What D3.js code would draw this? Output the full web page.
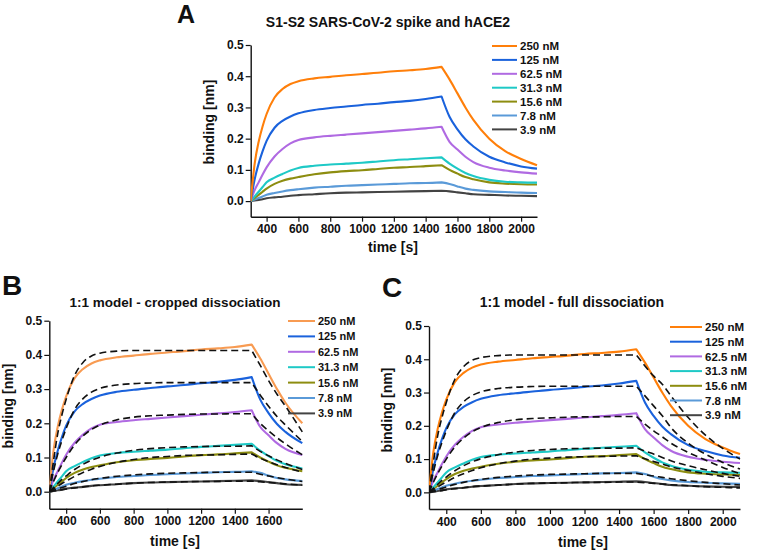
<!DOCTYPE html>
<html><head><meta charset="utf-8">
<script src="https://cdn.jsdelivr.net/npm/d3@7"></script>
<style>
body{margin:0;background:#fff}
svg{display:block}
text{font-family:"Liberation Sans",Arial,sans-serif;font-weight:bold;fill:#111}
</style>
</head><body><svg width="760" height="552"></svg>
<script>
// ---------- data ----------
const concentrations = ["250 nM","125 nM","62.5 nM","31.3 nM","15.6 nM","7.8 nM","3.9 nM"];
const colors = ["#ff7f0a","#1a62dc","#b06ae2","#1ec9c6","#8d8d10","#5a9ad8","#434343"];

const times = [300,325,350,375,400,450,500,550,600,700,800,900,1000,1100,1200,1300,1400,1500,1550,1600,1650,1700,1800,1900,2000,2100];

const data250 = [0,0.12,0.19,0.24,0.279,0.332,0.359,0.375,0.384,0.393,0.398,0.403,0.407,0.411,0.416,0.419,0.423,0.43,0.39,0.345,0.30,0.26,0.20,0.16,0.135,0.115];
const data125 = [0,0.07,0.12,0.16,0.193,0.235,0.257,0.271,0.281,0.292,0.298,0.303,0.308,0.312,0.317,0.321,0.327,0.335,0.27,0.23,0.198,0.175,0.142,0.124,0.111,0.104];
const data62 = [0,0.035,0.06,0.085,0.108,0.143,0.167,0.185,0.196,0.204,0.209,0.213,0.217,0.221,0.225,0.229,0.233,0.238,0.19,0.165,0.142,0.125,0.107,0.098,0.092,0.088];
const data31 = [0,0.015,0.03,0.045,0.06,0.075,0.087,0.098,0.106,0.113,0.117,0.12,0.123,0.127,0.131,0.134,0.137,0.14,0.12,0.104,0.09,0.08,0.068,0.062,0.06,0.059];
const data15 = [0,0.01,0.02,0.03,0.04,0.055,0.065,0.072,0.077,0.086,0.092,0.096,0.099,0.103,0.107,0.109,0.112,0.115,0.1,0.088,0.077,0.07,0.06,0.056,0.054,0.053];
const data7 = [0,0.005,0.01,0.015,0.02,0.026,0.031,0.035,0.038,0.043,0.046,0.049,0.051,0.053,0.055,0.057,0.058,0.06,0.055,0.047,0.04,0.036,0.031,0.029,0.027,0.026];
const data3 = [0,0.002,0.004,0.006,0.009,0.012,0.014,0.017,0.019,0.022,0.025,0.027,0.028,0.029,0.03,0.031,0.032,0.033,0.031,0.028,0.025,0.022,0.02,0.018,0.017,0.016];
const dataSeries = [data250,data125,data62,data31,data15,data7,data3];

// 1:1 model fits: association phase (times 300..1500)
const assocTimes = [300,325,350,375,400,450,500,550,600,700,800,900,1000,1100,1200,1300,1400,1500];
const fitAssoc = [
  [0,0.09,0.17,0.225,0.27,0.34,0.378,0.397,0.405,0.411,0.413,0.413,0.413,0.413,0.413,0.413,0.413,0.413],
  [0,0.06,0.11,0.15,0.185,0.24,0.272,0.291,0.302,0.312,0.316,0.318,0.319,0.319,0.319,0.319,0.319,0.319],
  [0,0.03,0.056,0.079,0.1,0.137,0.163,0.182,0.195,0.21,0.218,0.222,0.224,0.226,0.227,0.227,0.228,0.228],
  [0,0.012,0.024,0.036,0.046,0.065,0.08,0.092,0.101,0.113,0.121,0.126,0.129,0.131,0.132,0.133,0.133,0.134],
  [0,0.008,0.016,0.024,0.031,0.045,0.056,0.066,0.074,0.086,0.094,0.1,0.103,0.106,0.107,0.108,0.109,0.11],
  [0,0.004,0.008,0.012,0.016,0.024,0.03,0.035,0.039,0.045,0.049,0.052,0.054,0.055,0.056,0.057,0.057,0.057],
  [0,0.002,0.004,0.006,0.008,0.011,0.014,0.017,0.019,0.022,0.025,0.027,0.028,0.029,0.03,0.03,0.031,0.031]
];
// dissociation fits, cropped (panel B)
const dissocTimesB = [1500,1550,1600,1650,1700,1800];
const fitDissocB = [
  [0.413,0.37,0.325,0.285,0.25,0.175],
  [0.319,0.283,0.25,0.22,0.195,0.147],
  [0.228,0.2,0.178,0.158,0.14,0.108],
  [0.134,0.118,0.105,0.093,0.083,0.065],
  [0.11,0.098,0.088,0.079,0.071,0.057],
  [0.057,0.051,0.046,0.041,0.037,0.03],
  [0.031,0.029,0.027,0.025,0.023,0.019]
];
// dissociation fits, full (panel C)
const dissocTimesC = [1500,1550,1600,1650,1700,1800,1900,2000,2100];
const fitDissocC = [
  [0.413,0.38,0.35,0.325,0.29,0.225,0.172,0.132,0.1],
  [0.319,0.29,0.26,0.23,0.195,0.148,0.115,0.09,0.07],
  [0.228,0.205,0.185,0.167,0.148,0.12,0.097,0.075,0.056],
  [0.134,0.124,0.115,0.105,0.095,0.08,0.068,0.057,0.048],
  [0.11,0.101,0.093,0.085,0.077,0.066,0.056,0.048,0.042],
  [0.057,0.053,0.049,0.045,0.041,0.035,0.03,0.026,0.022],
  [0.031,0.029,0.027,0.025,0.023,0.02,0.017,0.015,0.013]
];

const yTicks = [0,0.1,0.2,0.3,0.4,0.5];
const yMinor = [0.05,0.15,0.25,0.35,0.45];
const xTicksFull = [400,600,800,1000,1200,1400,1600,1800,2000];
const xMinorFull = [300,500,700,900,1100,1300,1500,1700,1900,2100];
const xTicksCrop = [400,600,800,1000,1200,1400,1600];
const xMinorCrop = [300,500,700,900,1100,1300,1500,1700];

// ---------- drawing ----------
const svg = d3.select("svg");

function drawPanel(p) {
  const x = d3.scaleLinear().domain([300, p.tmax]).range([p.x0, p.x1]);
  const y = d3.scaleLinear().domain([-0.05, 0.5]).range([p.yb, p.yt]);
  const g = svg.append("g");

  const gx = g.append("g").attr("transform", `translate(0,${p.yb})`);
  gx.call(d3.axisBottom(x).tickValues(p.xMinor).tickSize(3).tickSizeOuter(0).tickFormat(""));
  gx.call(d3.axisBottom(x).tickValues(p.xTicks).tickSize(5).tickSizeOuter(0).tickPadding(3).tickFormat(d3.format("d")));
  const gy = g.append("g").attr("transform", `translate(${p.x0},0)`);
  gy.call(d3.axisLeft(y).tickValues(yMinor).tickSize(3).tickSizeOuter(0).tickFormat(""));
  gy.call(d3.axisLeft(y).tickValues(yTicks).tickSize(5).tickSizeOuter(0).tickPadding(2).tickFormat(d3.format(".1f")));
  g.selectAll(".domain").attr("stroke", "#111").attr("stroke-width", 1.4);
  g.selectAll(".tick line").attr("stroke", "#111").attr("stroke-width", 1.2);
  g.selectAll(".tick text").style("font-size", p.tickFont + "px").attr("fill", "#111");

  const line = d3.line().x(d => x(d[0])).y(d => y(d[1])).curve(d3.curveMonotoneX);
  const split = times.indexOf(1500);

  const clipId = "clip" + p.id;
  svg.append("clipPath").attr("id", clipId).append("rect")
    .attr("x", p.x0).attr("y", p.yt - 10).attr("width", p.x1 - p.x0 + 1).attr("height", p.yb - p.yt + 10);
  const plot = g.append("g").attr("clip-path", `url(#${clipId})`);

  dataSeries.slice().reverse().forEach((vals, ri) => {
    const i = dataSeries.length - 1 - ri;
    const pts = times.map((t, k) => [t, vals[k]]);
    const a = pts.slice(0, split + 1);
    const d = pts.slice(split).filter(q => q[0] <= p.tmax);
    plot.append("path").attr("d", line(a) + line(d).replace(/^M/, "L"))
      .attr("fill", "none").attr("stroke", (p.colors || colors)[i]).attr("stroke-width", 2.1)
      .attr("stroke-linejoin", "round");
  });

  if (p.fitDissoc) {
    fitAssoc.forEach((vals, i) => {
      const a = assocTimes.map((t, k) => [t, vals[k]]);
      const d = p.dissocTimes.map((t, k) => [t, p.fitDissoc[i][k]]);
      plot.append("path").attr("d", line(a) + line(d).replace(/^M/, "L"))
        .attr("fill", "none").attr("stroke", "#111").attr("stroke-width", 1.6)
        .attr("stroke-dasharray", "7,4");
    });
  }

  concentrations.forEach((c, i) => {
    const ly = p.legY + i * p.legDy;
    g.append("line").attr("x1", p.legX).attr("x2", p.legX + p.legLen)
      .attr("y1", ly).attr("y2", ly).attr("stroke", (p.colors || colors)[i]).attr("stroke-width", 2);
    g.append("text").attr("x", p.legX + p.legLen + 3).attr("y", ly).attr("dy", "0.36em")
      .style("font-size", p.legFont + "px").text(c);
  });

  g.append("text").attr("x", p.titleX).attr("y", p.titleY).attr("text-anchor", "middle")
    .style("font-size", p.titleFont + "px").text(p.title);
  g.append("text").attr("transform", `translate(${p.ylabX},${p.ylabY}) rotate(-90)`)
    .attr("text-anchor", "middle").attr("dy", "0.35em").style("font-size", "14px").text("binding [nm]");
  g.append("text").attr("x", p.xlabX).attr("y", p.xlabY).attr("text-anchor", "middle")
    .style("font-size", "14px").text("time [s]");
  g.append("text").attr("x", p.letterX).attr("y", p.letterY)
    .style("font-size", p.letterFont + "px").text(p.letter);
}

const colorsB = ["#f89b52","#1a62dc","#b06ae2","#1ec9c6","#8d8d10","#5a9ad8","#434343"];

drawPanel({id:"A", tmax:2100, x0:250.7, x1:537, yt:45, yb:216.7,
  xTicks:xTicksFull, xMinor:xMinorFull, tickFont:12,
  legX:492, legLen:25, legY:46, legDy:13.9, legFont:11.5,
  title:"S1-S2 SARS-CoV-2 spike and hACE2", titleX:388, titleY:27, titleFont:14,
  ylabX:209, ylabY:122, xlabX:393, xlabY:252, letter:"A", letterX:177, letterY:23, letterFont:25});

drawPanel({id:"B", tmax:1800, x0:49.3, x1:302.3, yt:320.7, yb:508.8, colors:colorsB,
  xTicks:xTicksCrop, xMinor:xMinorCrop, tickFont:12,
  legX:288, legLen:27, legY:321, legDy:15.4, legFont:11,
  fitDissoc:fitDissocB, dissocTimes:dissocTimesB,
  title:"1:1 model - cropped dissociation", titleX:175, titleY:307, titleFont:13.5,
  ylabX:8.5, ylabY:406, xlabX:175, xlabY:546, letter:"B", letterX:2, letterY:295, letterFont:28});

drawPanel({id:"C", tmax:2100, x0:429, x1:740, yt:326, yb:509,
  xTicks:xTicksFull, xMinor:xMinorFull, tickFont:12,
  legX:670, legLen:32, legY:327, legDy:14.7, legFont:11.5,
  fitDissoc:fitDissocC, dissocTimes:dissocTimesC,
  title:"1:1 model - full dissociation", titleX:572, titleY:307, titleFont:14,
  ylabX:387, ylabY:410, xlabX:583, xlabY:547, letter:"C", letterX:382, letterY:297, letterFont:28});
</script>
</body></html>
